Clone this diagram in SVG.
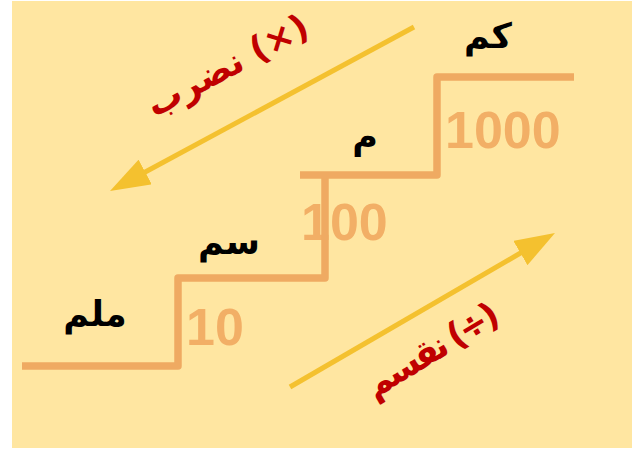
<svg xmlns="http://www.w3.org/2000/svg" width="638" height="450" viewBox="0 0 638 450">
  <style>
    .step { fill: none; stroke: #EFAA62; stroke-width: 7.5; stroke-linejoin: round; }
    .num { font-family: "Liberation Sans", Arial, sans-serif; font-weight: bold; font-size: 52px; fill: #F2AF66; }
    .unit { font-family: "DejaVu Sans", "Noto Sans", sans-serif; font-weight: bold; font-size: 35px; fill: #000000; text-anchor: middle; }
    .op { font-family: "DejaVu Sans", "Noto Sans", sans-serif; font-weight: bold; font-size: 35px; fill: #C00000; text-anchor: middle; }
    .arrow { stroke: #F4C12F; stroke-width: 5; fill: none; }
  </style>
  <defs>
    <marker id="head" markerUnits="userSpaceOnUse" markerWidth="40" markerHeight="28" refX="30" refY="14" orient="auto" viewBox="0 0 40 28">
      <path d="M0,0 L40,14 L0,28 Z" fill="#F4C12F"/>
    </marker>
  </defs>
  <rect x="12" y="1" width="620" height="447" fill="#FFE6A1"/>

  <g id="numbers">
    <text class="num" x="186" y="345">10</text>
    <text class="num" x="301" y="240">100</text>
    <text class="num" x="445" y="148">1000</text>
  </g>

  <g id="stairs">
    <path class="step" d="M22,366 H178 V278 H325 V175"/>
    <path class="step" d="M300,175 H437 V77 H574"/>
  </g>

  <g id="node-mm"><text class="unit" x="95" y="326">ملم</text></g>
  <g id="node-cm"><text class="unit" x="229" y="254">سم</text></g>
  <g id="node-m"><text class="unit" x="365" y="148">م</text></g>
  <g id="node-km"><text class="unit" x="488" y="48">كم</text></g>

  <g id="connectors">
    <line class="arrow" x1="414" y1="27" x2="118.8" y2="186.25" marker-end="url(#head)"/>
    <line class="arrow" x1="290" y1="387" x2="546.35" y2="238.02" marker-end="url(#head)"/>
  </g>

  <g id="label-multiply">
    <text class="op" direction="ltr" x="0" y="0" transform="translate(233,76) rotate(-28)">نضرب (×)</text>
  </g>
  <g id="label-divide">
    <text class="op" direction="ltr" x="0" y="0" textLength="150" lengthAdjust="spacing" transform="translate(438,360) rotate(-31)">نقسم (÷)</text>
  </g>
</svg>
